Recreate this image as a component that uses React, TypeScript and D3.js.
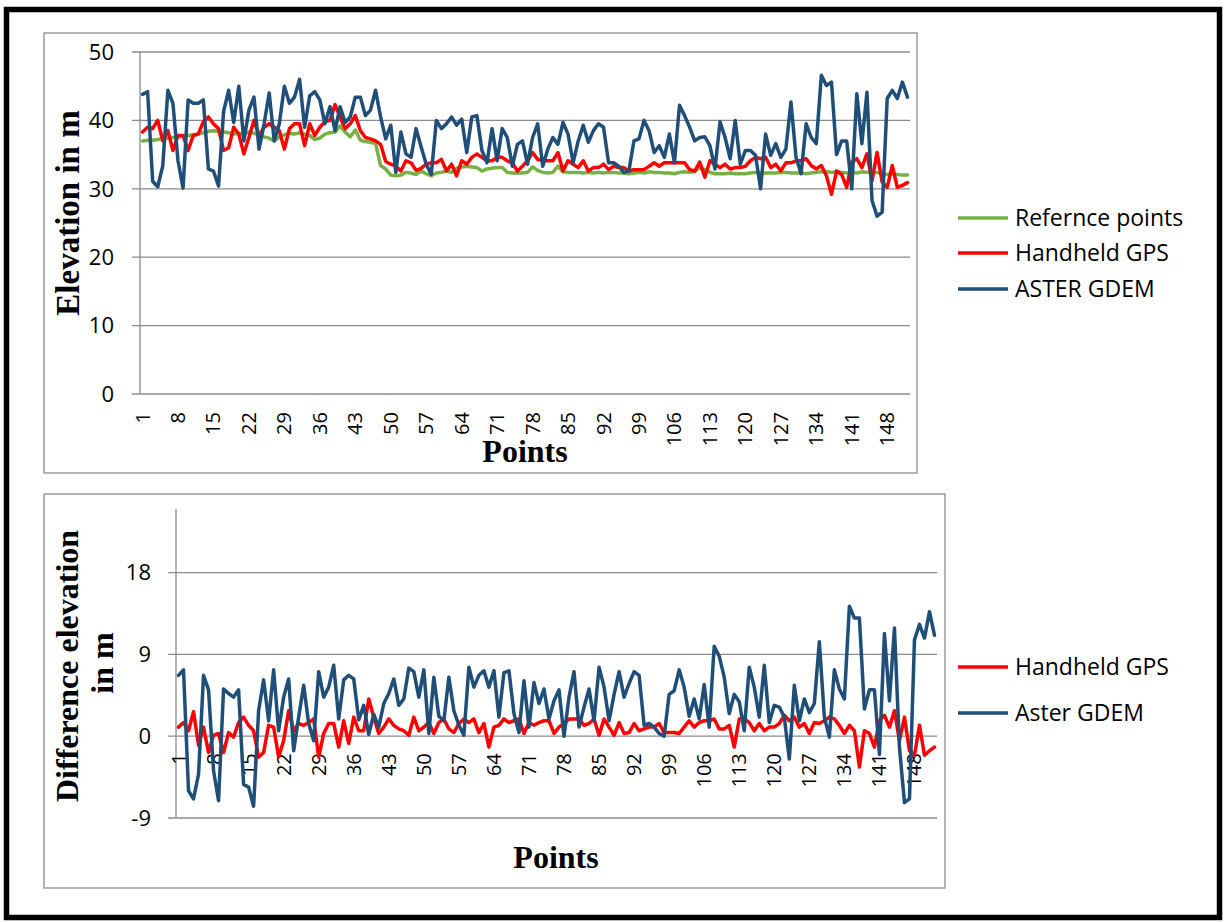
import * as d3 from 'd3';

// points 1..152 along the survey line
const categories = d3.range(1, 153);
const tickEvery = 7;

// top panel: elevation in m
const referencePoints = [
  37.0, 37.1, 37.1, 37.2, 37.3, 37.4, 37.5, 37.6, 37.7, 37.8,
  37.9, 38.0, 38.2, 38.4, 38.5, 38.4, 38.3, 38.2, 38.0, 38.1,
  38.0, 38.3, 38.1, 37.9, 37.6, 37.4, 37.0, 37.6, 37.9, 38.1,
  38.0, 38.2, 38.0, 37.8, 37.2, 37.4, 38.0, 38.2, 38.3, 39.2,
  38.3, 37.6, 38.6, 37.1, 36.9, 36.8, 36.6, 33.4, 32.9, 32.0,
  31.9, 32.0, 32.4, 32.3, 32.1, 32.6, 32.2, 31.9, 32.3, 32.4,
  32.6, 32.4, 33.0, 33.2, 33.3, 33.2, 33.1, 32.6, 32.9, 33.0,
  33.1, 33.1, 32.4, 32.3, 32.3, 32.3, 32.4, 33.2, 32.7, 32.4,
  32.3, 32.4, 33.3, 32.5, 32.4, 32.4, 32.4, 32.3, 32.4, 32.3,
  32.4, 32.3, 32.4, 32.4, 32.3, 32.3, 32.2, 32.3, 32.4, 32.3,
  32.5, 32.4, 32.4, 32.3, 32.3, 32.2, 32.4, 32.5, 32.4, 32.5,
  33.1, 32.8, 32.4, 32.2, 32.2, 32.2, 32.3, 32.2, 32.2, 32.2,
  32.3, 32.4, 32.3, 32.3, 32.3, 32.3, 32.4, 32.4, 32.3, 32.3,
  32.3, 32.2, 32.3, 32.4, 32.5, 32.5, 32.4, 32.5, 32.4, 32.3,
  32.4, 32.3, 32.5, 32.4, 32.3, 32.4, 32.2, 32.1, 32.2, 32.1,
  32.0, 32.0,
];

const handheldGps = [
  38.3, 39.0, 38.8, 40.0, 37.0, 38.5, 35.6, 37.8, 37.8, 35.6,
  37.8, 38.0, 39.8, 40.5, 39.5, 38.8, 35.6, 36.0, 39.0, 38.0,
  35.1, 37.5, 40.0, 37.8, 39.0, 39.5, 39.0, 38.5, 35.8, 38.8,
  39.5, 39.5, 36.3, 39.5, 37.8, 39.0, 39.8, 40.0, 42.3, 40.5,
  38.8, 39.5, 40.7, 38.5, 37.5, 37.3, 37.0, 36.5, 34.0, 33.6,
  33.3, 32.6, 34.1, 33.8, 32.7, 33.0, 33.6, 33.8, 33.8, 34.3,
  32.6, 33.6, 31.9, 34.1, 33.6, 34.6, 35.1, 34.6, 34.1, 34.1,
  34.6, 34.6, 34.1, 33.8, 32.6, 33.3, 34.1, 35.3, 34.3, 34.1,
  34.1, 34.1, 35.3, 32.6, 34.1, 33.6, 33.1, 34.1, 32.6, 33.1,
  33.1, 33.6, 32.8, 33.3, 33.1, 33.1, 32.6, 32.8, 32.8, 32.8,
  33.3, 33.8, 33.3, 33.8, 33.8, 33.8, 33.8, 33.8, 32.8, 32.6,
  33.9, 31.7, 34.1, 33.6, 33.1, 33.6, 32.9, 33.1, 33.1, 33.3,
  34.1, 34.6, 34.4, 34.6, 33.1, 33.6, 32.6, 33.8, 33.8, 34.1,
  34.1, 34.4, 33.4, 32.9, 33.4, 31.9, 29.2, 32.6, 32.1, 30.2,
  33.9, 34.4, 33.1, 35.1, 31.2, 35.3, 31.0, 30.2, 33.4, 30.2,
  30.5, 30.9,
];

const asterGdem = [
  43.8, 44.2, 31.1, 30.3, 33.4, 44.4, 42.5, 34.1, 30.1, 43.0,
  42.5, 42.5, 43.0, 32.9, 32.6, 30.4, 41.3, 44.4, 39.7, 45.0,
  37.0, 41.5, 43.4, 35.8, 39.5, 44.0, 37.0, 39.5, 45.0, 42.5,
  43.4, 46.0, 39.0, 43.6, 44.2, 43.0, 39.5, 42.0, 38.5, 42.0,
  39.7, 40.5, 43.4, 43.4, 40.7, 41.5, 44.4, 40.5, 37.3, 39.3,
  32.4, 38.3, 35.1, 34.6, 38.8, 36.1, 33.6, 32.1, 40.0, 38.8,
  39.5, 40.5, 39.3, 40.2, 35.3, 40.5, 40.7, 35.6, 33.8, 38.8,
  34.1, 38.8, 37.5, 33.3, 36.5, 37.0, 33.6, 37.5, 39.5, 33.3,
  35.8, 37.5, 36.5, 39.7, 38.0, 33.8, 37.0, 39.3, 36.8, 38.5,
  39.5, 39.0, 33.8, 33.8, 33.3, 32.4, 32.6, 37.0, 37.3, 40.0,
  38.5, 35.3, 36.3, 34.6, 38.0, 33.8, 42.2, 40.7, 39.0, 37.0,
  37.5, 37.6, 36.3, 32.9, 39.8, 37.5, 34.4, 40.0, 33.6, 35.6,
  35.6, 34.9, 30.0, 38.0, 34.9, 36.6, 34.6, 35.8, 42.7, 34.6,
  32.2, 39.5, 37.5, 36.6, 46.6, 45.1, 45.6, 35.0, 37.0, 37.0,
  30.0, 43.9, 36.6, 44.1, 28.3, 26.0, 26.6, 43.2, 44.4, 43.2,
  45.6, 43.4,
];

// bottom panel: difference elevation in m
const diffHandheld = [
  1.0, 1.5, 0.6, 2.7, -1.0, 1.0, -1.8, 0.1, 0.3, -1.8,
  0.4, -0.1, 1.5, 2.1, 1.2, 0.6, -2.3, -1.8, 1.2, 1.0,
  -2.3, -0.5, 2.8, 0.6, 1.4, 1.2, 1.5, 1.9, -2.3, 0.3,
  1.4, 1.4, -1.2, 1.7, -0.8, 2.1, 0.6, 0.6, 4.1, 2.1,
  0.3, 1.0, 1.9, 1.2, 0.8, 0.6, 0.1, 2.1, 0.6, 1.0,
  1.5, 0.3, 1.5, 1.9, 0.8, 0.4, 1.4, 1.9, 1.5, 1.9,
  0.4, 1.4, -1.2, 1.0, 1.2, 1.9, 1.5, 1.7, 1.9, 0.3,
  1.5, 1.2, 1.5, 1.7, 1.7, 0.3, 1.0, 1.4, 1.9, 1.9,
  1.9, 1.2, 1.4, 1.9, 0.1, 1.9, 1.0, 0.1, 1.5, 0.3,
  0.4, 1.4, 0.6, 0.8, 1.0, 1.0, 1.4, 0.4, 0.4, 0.4,
  0.3, 1.0, 1.7, 1.0, 1.5, 1.7, 1.7, 1.9, 0.8, 0.8,
  1.2, -1.2, 1.9, 1.9, 1.5, 0.6, 1.4, 0.6, 1.0, 1.0,
  1.4, 2.3, 1.7, 2.1, 1.0, 1.4, 0.3, 1.5, 1.4, 1.7,
  2.1, 1.9, 1.2, 0.3, 1.2, 0.6, -3.4, 0.6, 0.3, -1.2,
  1.7, 2.3, 1.0, 2.8, -0.5, 2.1, -1.6, -2.1, 1.2, -2.1,
  -1.6, -1.2,
];

const diffAster = [
  6.7, 7.3, -6.0, -6.9, -4.2, 6.7, 5.1, -3.8, -7.1, 5.2,
  4.7, 4.3, 5.1, -5.3, -5.6, -7.7, 2.8, 6.2, 1.7, 7.3,
  0.6, 4.3, 6.3, -1.6, 2.1, 5.6, 1.4, -0.5, 7.1, 4.3,
  5.4, 7.8, 1.9, 6.2, 6.7, 6.3, 1.8, 3.4, 0.2, 2.4,
  1.0, 3.6, 4.7, 6.3, 3.4, 4.1, 7.5, 7.1, 4.3, 7.3,
  0.3, 6.5, 2.2, 1.7, 6.5, 2.8, 1.2, 0.1, 7.6, 5.4,
  6.7, 7.2, 5.4, 7.2, 2.1, 7.0, 7.2, 2.5, 0.4, 6.1,
  1.0, 5.9, 3.6, 5.2, 1.9, 3.9, 5.1, 0.0, 4.3, 7.1,
  1.0, 3.2, 5.2, 1.7, 7.6, 5.4, 1.7, 4.6, 7.1, 4.3,
  5.8, 7.1, 6.7, 1.2, 1.4, 1.0, 0.3, 0.0, 4.6, 5.0,
  7.3, 5.4, 2.2, 4.1, 1.9, 5.7, 1.0, 9.9, 8.8, 6.5,
  2.5, 4.6, 3.8, 0.6, 7.6, 5.4, 2.1, 7.8, 1.5, 3.4,
  3.2, 2.1, -2.5, 5.6, 1.7, 4.1, 2.6, 3.6, 10.4, 2.1,
  -0.1, 7.3, 5.2, 4.1, 14.3, 13.0, 13.0, 3.0, 5.1, 5.1,
  -2.0, 11.3, 3.9, 11.9, -1.2, -7.3, -6.9, 10.6, 12.3, 10.8,
  13.7, 11.1,
];

const topTicks = [0, 10, 20, 30, 40, 50];
const bottomTicks = [-9, 0, 9, 18];

const GREEN = '#77b045';
const RED = '#ff0000';
const BLUE = '#1f4e79';
const GRID = '#8c8c8c';
const SANS = "'Open Sans', 'DejaVu Sans', sans-serif";
const SERIF = "'Liberation Serif', 'Times New Roman', serif";

type Series = { name: string; values: number[]; color: string };

function Panel({
  left, right, top, bottom, domain, ticks, series, legendY, legendX, labelGap, ticksRight,
}: {
  left: number; right: number; top: number; bottom: number;
  domain: [number, number]; ticks: number[]; series: Series[];
  legendY: number[]; legendX: number; labelGap: number; ticksRight: number;
}) {
  const x = d3.scaleBand<number>().domain(categories).range([left, right]).padding(0);
  const y = d3.scaleLinear().domain(domain).range([bottom, top]);
  const cx = (c: number) => (x(c) ?? 0) + x.bandwidth() / 2;
  const line = d3.line<number>()
    .x((_, i) => cx(categories[i]))
    .y((d) => y(d));
  const axisY = y(0);
  const labels = categories.filter((c) => (c - 1) % tickEvery === 0);

  return (
    <g>
      {ticks.map((t) => (
        <g key={t}>
          <line x1={left - 8} x2={right} y1={y(t)} y2={y(t)} stroke={GRID} strokeWidth={1.3} />
          <text x={ticksRight} y={y(t)} dy="0.35em" textAnchor="end" fontSize={22} fontFamily={SANS} fill="#000">
            {t}
          </text>
        </g>
      ))}
      <line x1={left} x2={left} y1={top} y2={bottom} stroke={GRID} strokeWidth={1.3} />
      {labels.map((c) => (
        <text
          key={c}
          transform={`translate(${cx(c) + 7},${axisY + labelGap}) rotate(-90)`}
          textAnchor="end"
          fontSize={20}
          fontFamily={SANS}
          fill="#000"
        >
          {c}
        </text>
      ))}
      {series.map((s) => (
        <path key={s.name} d={line(s.values) ?? ''} fill="none" stroke={s.color} strokeWidth={3.5} strokeLinejoin="round" strokeLinecap="round" />
      ))}
      {series.map((s, i) => (
        <g key={s.name + '-legend'}>
          <line x1={legendX} x2={legendX + 50} y1={legendY[i]} y2={legendY[i]} stroke={s.color} strokeWidth={3.5} />
          <text x={legendX + 57} y={legendY[i]} dy="0.35em" fontSize={23} fontFamily={SANS} fill="#000">
            {s.name}
          </text>
        </g>
      ))}
    </g>
  );
}

export default function App() {
  return (
    <svg width={1224} height={922} style={{ position: 'absolute', left: 0, top: 0, display: 'block', background: '#fff' }}>
      <rect x={6.5} y={9.5} width={1213} height={908} fill="#fff" stroke="#000" strokeWidth={5.5} />

      {/* top chart */}
      <rect x={44} y={33} width={873} height={440} fill="#fff" stroke={GRID} strokeWidth={1.3} />
      <Panel
        left={140} right={910} top={52} bottom={394}
        domain={[0, 50]} ticks={topTicks}
        series={[
          { name: 'Refernce points', values: referencePoints, color: GREEN },
          { name: 'Handheld GPS', values: handheldGps, color: RED },
          { name: 'ASTER GDEM', values: asterGdem, color: BLUE },
        ]}
        legendY={[218, 253, 289]} legendX={958} labelGap={18} ticksRight={114}
      />
      <text transform="translate(79,213) rotate(-90)" textAnchor="middle" fontSize={33} fontWeight="bold" fontFamily={SERIF}>
        Elevation in m
      </text>
      <text x={525} y={462} textAnchor="middle" fontSize={32} fontWeight="bold" fontFamily={SERIF}>
        Points
      </text>

      {/* bottom chart */}
      <rect x={44} y={494} width={901} height={394} fill="#fff" stroke={GRID} strokeWidth={1.3} />
      <Panel
        left={176} right={937} top={509} bottom={818}
        domain={[-9, 25]} ticks={bottomTicks}
        series={[
          { name: 'Handheld GPS', values: diffHandheld, color: RED },
          { name: 'Aster GDEM', values: diffAster, color: BLUE },
        ]}
        legendY={[667, 713]} legendX={958} labelGap={17} ticksRight={151}
      />
      <text transform="translate(78,666) rotate(-90)" textAnchor="middle" fontSize={32} fontWeight="bold" fontFamily={SERIF}>
        Difference elevation
      </text>
      <text transform="translate(113,663) rotate(-90)" textAnchor="middle" fontSize={32} fontWeight="bold" fontFamily={SERIF}>
        in m
      </text>
      <text x={556} y={868} textAnchor="middle" fontSize={32} fontWeight="bold" fontFamily={SERIF}>
        Points
      </text>
    </svg>
  );
}
